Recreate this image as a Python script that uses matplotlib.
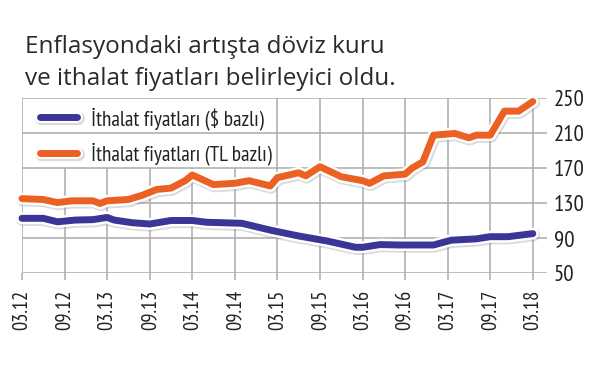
import matplotlib
matplotlib.use("Agg")
import matplotlib.pyplot as plt
import matplotlib.patheffects as pe

# months counted from 03.2012
usd_months = [0, 3, 5, 7.5, 10, 12, 13, 15.5, 18, 21, 24, 26, 31, 35, 39, 43, 47, 48,
              50.5, 53, 58, 60.5, 64, 66, 68.5, 72]
usd_values = [112.5, 112.5, 108.5, 110.5, 111, 113.5, 110.5, 107.5, 106, 110, 110, 108,
              106.8, 99, 92.3, 86.6, 79.4, 79.4, 82.5, 82, 82, 87.5, 89, 91.5, 91.5, 95]

tl_months = [0, 3, 5, 7, 10, 11, 12, 15, 17, 19, 21, 23, 24, 27, 30, 32, 35, 36, 39, 40,
             42, 45, 48, 49, 51, 54, 55, 56.5, 58, 61, 63, 64, 66, 68, 70, 72]
tl_values = [135, 134, 130.5, 132.5, 132.5, 129.5, 132.5, 134, 139, 145.5, 147, 155.5,
             162, 151, 152.5, 155.5, 149.5, 159, 164.5, 161, 171.5, 160, 155.5, 152.5,
             161, 163, 170, 177, 207.5, 209.5, 204.5, 207.5, 207.5, 235, 235, 246]

x_ticks = list(range(0, 73, 6))
x_labels = ["03.12", "09.12", "03.13", "09.13", "03.14", "09.14", "03.15",
            "09.15", "03.16", "09.16", "03.17", "09.17", "03.18"]
y_ticks = [50, 90, 130, 170, 210, 250]

title = "Enflasyondaki artışta döviz kuru\nve ithalat fiyatları belirleyici oldu."
usd_label = "İthalat fiyatları ($ bazlı)"
tl_label = "İthalat fiyatları (TL bazlı)"

narrow = ["PT Sans Narrow", "Roboto Condensed", "Liberation Sans Narrow", "DejaVu Sans"]
grid_color = "#ababab"

fig = plt.figure(figsize=(6, 3.69), dpi=100)
ax = fig.add_axes([22 / 600, (369 - 273) / 369, 525 / 600, 175 / 369])
ax.set_xlim(0, 74)
ax.set_ylim(50, 250)

# grid: horizontal lines across, vertical lines hidden behind the legend box
for y in y_ticks:
    ax.axhline(y, color=grid_color, lw=1.1, zorder=1)
for m in x_ticks:
    top = 170 if 0 < m < 36 else 250
    ax.plot([m, m], [50, top], color=grid_color, lw=1.1, zorder=1, solid_capstyle="butt")

effects = [
    pe.SimpleLineShadow(offset=(0.6, -0.8), shadow_color="#888888", alpha=0.3, linewidth=9.5),
    pe.Stroke(linewidth=8.5, foreground="white"),
    pe.Normal(),
]
ax.plot(usd_months, usd_values, color="#3b3598", lw=5, solid_capstyle="round",
        solid_joinstyle="round", path_effects=effects, zorder=3, clip_on=False,
        label=usd_label)
ax.plot(tl_months, tl_values, color="#eb6124", lw=5, solid_capstyle="round",
        solid_joinstyle="round", path_effects=effects, zorder=3, clip_on=False,
        label=tl_label)

for s in ax.spines.values():
    s.set_visible(False)

ax.set_xticks(x_ticks)
ax.set_xticklabels(x_labels, rotation=90, fontsize=14.8, family=narrow, color="#222222")
ax.tick_params(axis="x", length=5, width=1.1, color=grid_color, pad=7)

ax.yaxis.tick_right()
ax.set_yticks(y_ticks)
ax.set_yticklabels([str(v) for v in y_ticks], fontsize=16.5, family=narrow, color="#222222")
ax.tick_params(axis="y", length=0, pad=5)

leg = ax.legend(loc="upper left", bbox_to_anchor=(-0.002, 1.06), frameon=False,
                handlelength=1.75, handletextpad=0.65, labelspacing=0.6,
                prop={"family": narrow, "size": 15.3})
for t in leg.get_texts():
    t.set_color("#222222")

fig.text(25 / 600, 1 - 35 / 369, title, fontsize=17.5, family="Open Sans",
         color="#2a2a2a", va="top", ha="left", linespacing=1.45)

fig.savefig("out.png", dpi=100, facecolor="white")
